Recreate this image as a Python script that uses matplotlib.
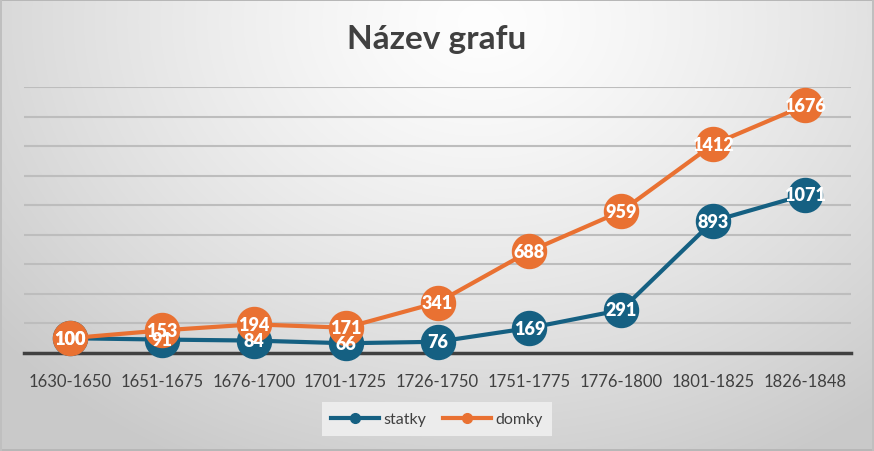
import numpy as np
import matplotlib
matplotlib.use("Agg")
import matplotlib.pyplot as plt
from matplotlib.lines import Line2D

categories = ["1630-1650", "1651-1675", "1676-1700", "1701-1725", "1726-1750",
              "1751-1775", "1776-1800", "1801-1825", "1826-1848"]
statky = [100, 91, 84, 66, 76, 169, 291, 893, 1071]
domky = [100, 153, 194, 171, 341, 688, 959, 1412, 1676]

BLUE = "#156082"
ORANGE = "#E97132"
TXT = "#404040"

plt.rcParams['font.family'] = ['Lato', 'DejaVu Sans']

W, H = 874, 452
fig = plt.figure(figsize=(W / 100, H / 100), dpi=100)

# background gradient
bg = fig.add_axes([0, 0, 1, 1])
yy, xx = np.mgrid[0:H, 0:W]
cx, cy = W * 0.55, H * 0.05
d = np.sqrt(((xx - cx) / (W * 0.72)) ** 2 + ((yy - cy) / (H * 1.1)) ** 2)
d = np.clip(d, 0, 1)
light, dark = 0.995, 0.79
val = light - (light - dark) * d ** 1.3
img = np.dstack([val, val, val])
# border
img[:2, :, :] = 0.72
img[-2:, :, :] = 0.72
img[:, :2, :] = 0.75
img[:, -2:, :] = 0.75
bg.imshow(img, extent=[0, 1, 0, 1], aspect='auto', zorder=0)
bg.set_axis_off()

ax = fig.add_axes([24 / W, 98 / H, 827 / W, 266 / H])
ax.patch.set_alpha(0)
x = np.arange(len(categories))
ax.set_xlim(-0.5, len(categories) - 0.5)
ax.set_ylim(0, 1800)
ax.set_yticks(np.arange(0, 1801, 200))
ax.yaxis.grid(True, color="#bdbdbd", linewidth=1.5)
ax.set_axisbelow(True)
for s in ["left", "right", "top"]:
    ax.spines[s].set_visible(False)
ax.spines["bottom"].set_color(TXT)
ax.spines["bottom"].set_linewidth(2.5)
ax.spines["bottom"].set_zorder(1.5)
ax.tick_params(axis='y', left=False, labelleft=False)
ax.tick_params(axis='x', bottom=False, labelsize=12, labelcolor=TXT, pad=11)
ax.set_xticks(x)
ax.set_xticklabels(categories)

ms = 24.5
ax.plot(x, statky, color=BLUE, lw=3, marker='o', ms=ms, mec=BLUE, zorder=3, clip_on=False)
ax.plot(x, domky, color=ORANGE, lw=3, marker='o', ms=ms, mec=ORANGE, zorder=4, clip_on=False)
for xi, v in zip(x, statky):
    ax.text(xi, v, str(v), ha='center', va='center', color='white', fontsize=13,
            fontweight='heavy', zorder=6)
for xi, v in zip(x, domky):
    ax.text(xi, v, str(v), ha='center', va='center', color='white', fontsize=13,
            fontweight='heavy', zorder=6)

fig.text(437 / W, 1 - 40 / H, "Název grafu", ha='center', va='center', fontsize=24,
         fontweight='bold', color=TXT)

handles = [Line2D([0], [0], color=BLUE, lw=3, marker='o', ms=7),
           Line2D([0], [0], color=ORANGE, lw=3, marker='o', ms=7)]
leg = fig.legend(handles, ["statky", "domky"], loc='center', bbox_to_anchor=(437 / W, 1 - 420 / H),
                 ncol=2, frameon=True, fontsize=11.5, labelcolor=TXT, handlelength=3.0,
                 columnspacing=1.0, handletextpad=0.3, borderpad=0.6, fancybox=False)
leg.get_frame().set_facecolor("#ececec")
leg.get_frame().set_edgecolor("none")
leg.get_frame().set_alpha(1)

fig.savefig("out.png", dpi=100)
